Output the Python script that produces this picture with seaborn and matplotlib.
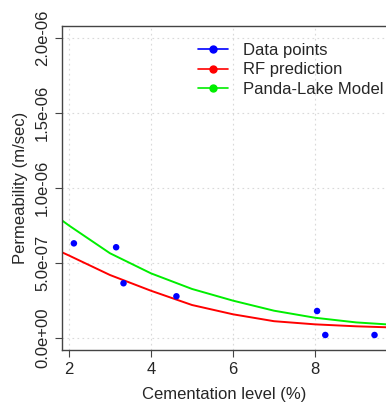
import numpy as np
import pandas as pd
import seaborn as sns
import matplotlib.pyplot as plt
from matplotlib.lines import Line2D
from matplotlib.ticker import FuncFormatter

# data
data_x = [2.12, 3.15, 3.33, 4.62, 8.05, 8.25, 9.45]
data_y = [0.631e-6, 0.605e-6, 0.365e-6, 0.278e-6, 0.18e-6, 0.02e-6, 0.02e-6]

curve_x = [1.8, 2, 3, 4, 5, 6, 7, 8, 9, 9.8]
rf_y = [0.575e-6, 0.55e-6, 0.42e-6, 0.315e-6, 0.22e-6, 0.158e-6, 0.112e-6, 0.091e-6, 0.078e-6, 0.071e-6]
pl_y = [0.79e-6, 0.75e-6, 0.565e-6, 0.431e-6, 0.327e-6, 0.249e-6, 0.182e-6, 0.135e-6, 0.104e-6, 0.09e-6]

legend_labels = ["Data points", "RF prediction", "Panda-Lake Model"]
legend_colors = ["#0000ff", "#ff0000", "#00ee00"]

sns.set_style("white")
plt.rcParams['font.family'] = ['Liberation Sans', 'DejaVu Sans']

fig = plt.figure(figsize=(3.86, 4.03), dpi=100)
ax = fig.add_axes([0.1606, 0.1315, 0.8394, 0.804])

sns.lineplot(x=curve_x, y=pl_y, color="#00ee00", lw=1.4, ax=ax)
sns.lineplot(x=curve_x, y=rf_y, color="#ff0000", lw=1.4, ax=ax)
sns.scatterplot(x=data_x, y=data_y, color="#0000ff", s=22, edgecolor="none", ax=ax, zorder=5)

ax.set_xlim(1.83, 9.73)
ax.set_ylim(-0.08e-6, 2.08e-6)
ax.set_xticks([2, 4, 6, 8])
ax.set_yticks([0, 0.5e-6, 1e-6, 1.5e-6, 2e-6])
ax.yaxis.set_major_formatter(FuncFormatter(lambda v, p: f"{v:.1e}"))
ax.grid(True, color="#d9d9d9", linestyle=(0, (1.5, 3)), lw=0.8)
ax.set_axisbelow(True)

for s in ["top", "left", "bottom"]:
    ax.spines[s].set_color("#444444")
    ax.spines[s].set_linewidth(1.0)
ax.spines["right"].set_visible(False)

ax.tick_params(axis="both", direction="out", length=5, width=0.8, color="#444444",
               labelsize=12, bottom=True, left=True)
plt.setp(ax.get_yticklabels(), rotation=90, va="center")
ax.set_xlabel("Cementation level (%)", fontsize=12, labelpad=7)
ax.set_ylabel("Permeability (m/sec)", fontsize=12, labelpad=5)

handles = [Line2D([0], [0], color=c, lw=1.2, marker="o", markersize=5) for c in legend_colors]
ax.legend(handles, legend_labels, loc="upper left", bbox_to_anchor=(0.474, 0.93),
          bbox_transform=fig.transFigure, frameon=False, fontsize=12,
          handlelength=1.8, handletextpad=0.9, labelspacing=0.25)

fig.savefig("out.png", dpi=100)
